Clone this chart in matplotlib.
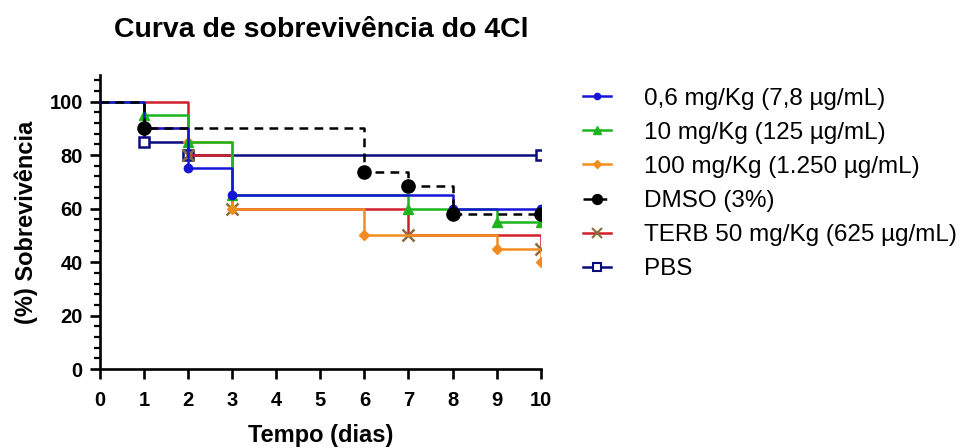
"""
Curva de sobrevivência do 4Cl - Kaplan-Meier em escada
"""
import matplotlib
matplotlib.use('Agg')
import matplotlib.pyplot as plt
from matplotlib.ticker import MultipleLocator

plt.rcParams['font.family'] = ['Liberation Sans', 'DejaVu Sans']

# dias em que a curva muda e a sobrevivência (%) a partir desse dia
t_06 = [0, 1, 2, 3, 8, 10]
s_06 = [100, 90, 75, 65, 60, 60]

t_10 = [0, 1, 2, 3, 7, 9, 10]
s_10 = [100, 95, 85, 65, 60, 55, 55]

t_100 = [0, 1, 2, 3, 6, 9, 10]
s_100 = [100, 90, 85, 60, 50, 45, 40]

t_dmso = [0, 1, 6, 7, 8, 10]
s_dmso = [100, 90, 73.7, 68.4, 57.9, 57.9]

t_terb = [0, 2, 3, 7, 10]
s_terb = [100, 80, 60, 50, 45]

t_pbs = [0, 1, 2, 10]
s_pbs = [100, 85, 80, 80]

labels = ['0,6 mg/Kg (7,8 µg/mL)', '10 mg/Kg (125 µg/mL)', '100 mg/Kg (1.250 µg/mL)',
          'DMSO (3%)', 'TERB 50 mg/Kg (625 µg/mL)', 'PBS']
x_ticks = list(range(0, 11))
y_ticks = [0, 20, 40, 60, 80, 100]

fig = plt.figure(figsize=(9.62, 4.48), dpi=100)
ax = fig.add_axes([0.104, 0.176, 0.458, 0.657])

lw = 1.8
series = [
    # t, s, cor da linha, marcador, cor do marcador, tamanho, estilo, zorder, rótulo
    (t_pbs, s_pbs, '#0b0b80', 's', 'none', 7, '-', 2, labels[5]),
    (t_terb, s_terb, '#d21f2b', 'x', '#8a6b3c', 9, '-', 3, labels[4]),
    (t_100, s_100, '#f28c1e', 'D', '#f28c1e', 5.5, '-', 4, labels[2]),
    (t_10, s_10, '#1db51d', '^', '#1db51d', 7.5, '-', 5, labels[1]),
    (t_06, s_06, '#1515d8', 'o', '#1515d8', 6, '-', 6, labels[0]),
    (t_dmso, s_dmso, 'black', 'o', 'black', 9.5, (0, (3.5, 2.5)), 7, labels[3]),
]

handles = {}
for t, s, c, m, mc, ms, ls, z, lab in series:
    ax.step(t, s, where='post', color=c, lw=lw, linestyle=ls, zorder=z)
    mfc = mc if mc != 'none' else 'white'
    mec = c if mc == 'none' else mc
    ax.plot(t[1:], s[1:], linestyle='none', marker=m, ms=ms, mfc=mfc, mec=mec,
            mew=1.8 if m in ('s', 'x') else 1, zorder=z + 0.5)
    # alça da legenda
    h, = ax.plot([], [], color=c, lw=lw, linestyle=ls, marker=m,
                 ms=ms * 0.75, mfc=mfc, mec=mec, mew=1.5 if m in ('s', 'x') else 1)
    handles[lab] = h

ax.set_xlim(0, 10)
ax.set_ylim(0, 110)
ax.set_xticks(x_ticks)
ax.set_yticks(y_ticks)
ax.yaxis.set_minor_locator(MultipleLocator(4))
for sp in ['top', 'right']:
    ax.spines[sp].set_visible(False)
for sp in ['left', 'bottom']:
    ax.spines[sp].set_linewidth(1.9)
ax.tick_params(axis='both', which='major', length=7.5, width=1.9, labelsize=14.5)
ax.tick_params(axis='x', which='major', pad=8.5)
ax.tick_params(axis='y', which='major', pad=5)
ax.tick_params(axis='y', which='minor', length=4.5, width=1.6)
for lab in ax.get_xticklabels() + ax.get_yticklabels():
    lab.set_fontweight('bold')

ax.set_xlabel('Tempo (dias)', fontsize=17, fontweight='bold', labelpad=10)
ax.set_ylabel('(%) Sobrevivência', fontsize=17, fontweight='bold', labelpad=8)
fig.text(0.3337, 0.917, 'Curva de sobrevivência do 4Cl', fontsize=20.5, fontweight='bold',
         ha='center', va='baseline')

fig.legend([handles[l] for l in labels], labels, loc='upper left',
           bbox_to_anchor=(0.586, 0.848), frameon=False, fontsize=17.5,
           handlelength=1.15, handletextpad=1.35, labelspacing=0.5, borderpad=0.3)

plt.savefig('out.png', dpi=100)
plt.close()
